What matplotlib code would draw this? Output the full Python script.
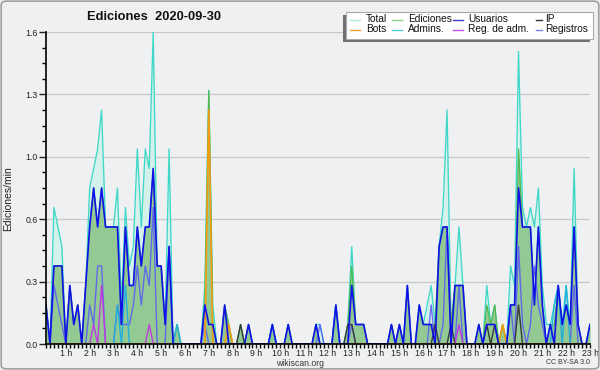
import matplotlib
matplotlib.use("Agg")
import matplotlib.pyplot as plt
from matplotlib.patches import Rectangle, FancyBboxPatch
from matplotlib.lines import Line2D
import numpy as np

plt.rcParams['font.family'] = ['Liberation Sans', 'DejaVu Sans']

# 10-minute bins from 00:10 to 23:00 (bin number n -> n*10 minutes)
bins = list(range(1, 139))

# edits per minute, one line per hour (first line 00:10-00:50, last 23:00)
total = [
    0.2, 0, 0.7, 0.6, 0.5,
    0, 0.3, 0.1, 0.2, 0, 0.3,
    0.8, 0.9, 1.0, 1.2, 0.6, 0.6,
    0.6, 0.8, 0.2, 0.7, 0.4, 0.5,
    1.0, 0.6, 1.0, 0.9, 1.6, 0.4,
    0.4, 0.1, 1.0, 0, 0.1, 0,
    0, 0, 0, 0, 0, 0.3,
    1.3, 0.2, 0, 0, 0.2, 0.1,
    0, 0, 0.1, 0, 0.1, 0,
    0, 0, 0, 0, 0.1, 0,
    0, 0, 0.1, 0, 0, 0,
    0, 0, 0, 0.1, 0.1, 0,
    0, 0, 0.2, 0, 0, 0.1,
    0.5, 0.1, 0.1, 0.1, 0, 0,
    0, 0, 0, 0, 0.1, 0,
    0.1, 0, 0.3, 0, 0, 0.2,
    0.1, 0.2, 0.3, 0.1, 0.5, 0.7,
    1.2, 0.1, 0.3, 0.6, 0.3, 0,
    0, 0, 0.1, 0, 0.3, 0.1,
    0.2, 0, 0.1, 0, 0.4, 0.3,
    1.5, 0.7, 0.6, 0.7, 0.6, 0.8,
    0.3, 0.1, 0.1, 0.2, 0.3, 0.1,
    0.3, 0.1, 0.9, 0.1, 0, 0,
    0.1,
]
ediciones = [
    0.2, 0, 0.4, 0.4, 0.4,
    0, 0.3, 0.1, 0.2, 0, 0.3,
    0.6, 0.8, 0.6, 0.8, 0.6, 0.6,
    0.6, 0.6, 0.1, 0.6, 0.3, 0.3,
    0.6, 0.4, 0.6, 0.6, 0.9, 0.4,
    0.4, 0.1, 0.5, 0, 0.1, 0,
    0, 0, 0, 0, 0, 0.2,
    1.3, 0.1, 0, 0, 0.2, 0.1,
    0, 0, 0.1, 0, 0.1, 0,
    0, 0, 0, 0, 0.1, 0,
    0, 0, 0.1, 0, 0, 0,
    0, 0, 0, 0.1, 0, 0,
    0, 0, 0.2, 0, 0, 0.1,
    0.4, 0.1, 0.1, 0.1, 0, 0,
    0, 0, 0, 0, 0.1, 0,
    0.1, 0, 0.3, 0, 0, 0.2,
    0.1, 0.1, 0.1, 0.1, 0.5, 0.6,
    0.6, 0.1, 0.3, 0.3, 0.3, 0,
    0, 0, 0.1, 0, 0.2, 0.1,
    0.2, 0, 0.1, 0, 0.2, 0.2,
    1.0, 0.6, 0.6, 0.6, 0.2, 0.6,
    0.2, 0, 0.1, 0.1, 0.3, 0.1,
    0.2, 0.1, 0.6, 0.1, 0, 0,
    0.1,
]
usuarios = [
    0.2, 0, 0.4, 0.4, 0.4,
    0, 0.3, 0.1, 0.2, 0, 0.3,
    0.6, 0.8, 0.6, 0.8, 0.6, 0.6,
    0.6, 0.6, 0.1, 0.6, 0.3, 0.3,
    0.6, 0.4, 0.6, 0.6, 0.9, 0.4,
    0.4, 0.1, 0.5, 0, 0, 0,
    0, 0, 0, 0, 0, 0.2,
    0.1, 0.1, 0, 0, 0.2, 0,
    0, 0, 0, 0, 0.1, 0,
    0, 0, 0, 0, 0.1, 0,
    0, 0, 0.1, 0, 0, 0,
    0, 0, 0, 0.1, 0, 0,
    0, 0, 0.2, 0, 0, 0,
    0.3, 0.1, 0.1, 0.1, 0, 0,
    0, 0, 0, 0, 0.1, 0,
    0.1, 0, 0.3, 0, 0, 0.2,
    0.1, 0.1, 0.1, 0, 0.5, 0.6,
    0.6, 0, 0.3, 0.3, 0.3, 0,
    0, 0, 0.1, 0, 0.1, 0.1,
    0.1, 0, 0, 0, 0.2, 0.2,
    0.8, 0.6, 0.6, 0.6, 0.2, 0.6,
    0.2, 0, 0.1, 0, 0.3, 0.1,
    0.2, 0.1, 0.6, 0.1, 0, 0,
    0.1,
]
ip = [
    0, 0, 0, 0, 0,
    0, 0, 0, 0, 0, 0,
    0, 0, 0, 0, 0, 0,
    0, 0, 0, 0, 0, 0,
    0, 0, 0, 0, 0, 0,
    0, 0, 0, 0, 0, 0,
    0, 0, 0, 0, 0, 0,
    0, 0, 0, 0, 0, 0,
    0, 0, 0.1, 0, 0, 0,
    0, 0, 0, 0, 0, 0,
    0, 0, 0, 0, 0, 0,
    0, 0, 0, 0, 0, 0,
    0, 0, 0, 0, 0, 0.1,
    0.1, 0, 0, 0, 0, 0,
    0, 0, 0, 0, 0, 0,
    0, 0, 0, 0, 0, 0,
    0, 0, 0, 0.1, 0, 0,
    0, 0.1, 0, 0, 0, 0,
    0, 0, 0, 0, 0.1, 0,
    0.1, 0, 0, 0, 0, 0,
    0.2, 0, 0, 0, 0, 0,
    0, 0, 0, 0, 0, 0,
    0, 0, 0, 0, 0, 0,
    0,
]
bots = [
    0, 0, 0, 0, 0,
    0, 0, 0, 0, 0, 0,
    0, 0, 0, 0, 0, 0,
    0, 0, 0, 0, 0, 0,
    0, 0, 0, 0, 0, 0,
    0, 0, 0, 0, 0, 0,
    0, 0, 0, 0, 0, 0,
    1.2, 0, 0, 0, 0, 0.1,
    0, 0, 0, 0, 0, 0,
    0, 0, 0, 0, 0, 0,
    0, 0, 0, 0, 0, 0,
    0, 0, 0, 0, 0, 0,
    0, 0, 0, 0, 0, 0,
    0, 0, 0, 0, 0, 0,
    0, 0, 0, 0, 0, 0,
    0, 0, 0, 0, 0, 0,
    0, 0, 0, 0, 0, 0,
    0, 0, 0, 0, 0, 0,
    0, 0, 0, 0, 0, 0,
    0, 0, 0.1, 0, 0, 0,
    0, 0, 0, 0, 0, 0,
    0, 0, 0, 0, 0, 0,
    0, 0, 0, 0, 0, 0,
    0,
]
admins = [
    0, 0, 0, 0, 0,
    0, 0, 0, 0, 0, 0,
    0, 0, 0, 0, 0, 0,
    0, 0.2, 0, 0.3, 0, 0,
    0, 0, 0, 0, 0, 0,
    0, 0, 0, 0, 0.1, 0,
    0, 0, 0, 0, 0, 0,
    0, 0, 0, 0, 0, 0,
    0, 0, 0, 0, 0, 0,
    0, 0, 0, 0, 0.1, 0,
    0, 0, 0, 0, 0, 0,
    0, 0, 0, 0, 0, 0,
    0, 0, 0.2, 0, 0, 0,
    0, 0, 0, 0, 0, 0,
    0, 0, 0, 0, 0, 0,
    0, 0, 0, 0, 0, 0,
    0, 0, 0, 0, 0, 0,
    0, 0, 0, 0, 0, 0,
    0, 0, 0, 0, 0, 0,
    0, 0, 0, 0, 0, 0,
    0, 0, 0, 0, 0, 0,
    0, 0, 0, 0.2, 0.3, 0,
    0.3, 0, 0, 0, 0, 0,
    0,
]
reg_adm = [
    0, 0, 0, 0, 0,
    0, 0, 0, 0, 0, 0,
    0, 0.1, 0, 0.3, 0, 0,
    0, 0, 0, 0, 0, 0,
    0, 0, 0, 0.1, 0, 0,
    0, 0, 0, 0, 0, 0,
    0, 0, 0, 0, 0, 0,
    0, 0, 0, 0, 0, 0,
    0, 0, 0, 0, 0, 0,
    0, 0, 0, 0, 0, 0,
    0, 0, 0, 0, 0, 0,
    0, 0, 0, 0, 0, 0,
    0, 0, 0, 0, 0, 0,
    0, 0, 0, 0, 0, 0,
    0, 0, 0, 0, 0, 0,
    0, 0, 0, 0, 0, 0,
    0, 0, 0, 0, 0, 0,
    0, 0, 0, 0.1, 0, 0,
    0, 0, 0, 0, 0, 0,
    0, 0, 0, 0, 0, 0,
    0, 0, 0, 0, 0, 0,
    0, 0, 0, 0, 0, 0,
    0, 0, 0, 0, 0, 0,
    0,
]
registros = [
    0, 0, 0.3, 0.2, 0.1,
    0, 0, 0, 0, 0, 0,
    0.2, 0.1, 0.4, 0.4, 0, 0,
    0, 0.2, 0.1, 0.1, 0.1, 0.2,
    0.4, 0.2, 0.4, 0.3, 0.7, 0,
    0, 0, 0.5, 0, 0, 0,
    0, 0, 0, 0, 0, 0.1,
    0, 0, 0, 0, 0, 0,
    0, 0, 0, 0, 0, 0,
    0, 0, 0, 0, 0, 0,
    0, 0, 0, 0, 0, 0,
    0, 0, 0, 0, 0.1, 0,
    0, 0, 0, 0, 0, 0,
    0.1, 0, 0, 0, 0, 0,
    0, 0, 0, 0, 0, 0,
    0, 0, 0, 0, 0, 0,
    0, 0, 0.2, 0, 0, 0.1,
    0.6, 0, 0, 0.3, 0, 0,
    0, 0, 0, 0, 0, 0,
    0, 0, 0, 0, 0.2, 0,
    0.5, 0.1, 0, 0.1, 0.4, 0.2,
    0.1, 0, 0, 0, 0, 0,
    0, 0, 0.3, 0, 0, 0,
    0,
]

hour_ticks = list(range(1, 24))
hour_labels = [f"{h} h" for h in hour_ticks]
y_ticks = [0.0, 0.32, 0.64, 0.96, 1.28, 1.6]
y_labels = ["0.0", "0.3", "0.6", "1.0", "1.3", "1.6"]
legend_labels = ["Total", "Ediciones", "Usuarios", "IP",
                 "Bots", "Admins.", "Reg. de adm.", "Registros"]

BG = '#eef0f1'
c_total_fill = '#d5f1ec'
c_total = '#3fd8c8'
c_ed_fill = '#93c993'
c_ed = '#4fb84f'
c_users = '#1010e8'
c_ip = '#3a3a3a'
c_bots = '#f39c12'
c_admins = '#22b0dc'
c_regadm = '#c03ae0'
c_reg = '#5858f8'

W, H = 600, 370
fig = plt.figure(figsize=(W / 100, H / 100), dpi=100, facecolor=BG)
ax = fig.add_axes([46 / W, 1 - 344 / H, 544 / W, 312 / H])
ax.set_facecolor(BG)

x = np.array(bins) / 6.0

ax.fill_between(x, 0, total, color=c_total_fill, lw=0, zorder=1)
ax.plot(x, total, color=c_total, lw=0.95, zorder=2)
ax.fill_between(x, 0, ediciones, color=c_ed_fill, lw=0, zorder=3)
ax.plot(x, ediciones, color=c_ed, lw=0.9, zorder=4)
ax.plot(x, registros, color=c_reg, lw=1.0, alpha=0.85, zorder=5)
ax.plot(x, admins, color=c_admins, lw=1.0, zorder=6)
ax.plot(x, ip, color=c_ip, lw=1.0, zorder=7)
ax.plot(x, reg_adm, color=c_regadm, lw=1.0, zorder=8)
ax.plot(x, bots, color=c_bots, lw=1.2, zorder=9)
ax.plot(x, usuarios, color=c_users, lw=1.2, zorder=10)

ax.set_xlim(1 / 6, 23)
ax.set_ylim(0, 1.6)
ax.set_xticks(hour_ticks)
ax.set_xticklabels(hour_labels)
ax.set_xticks(x, minor=True)
ax.set_yticks(y_ticks)
ax.set_yticklabels(y_labels)
ax.set_yticks(np.arange(0, 1.61, 0.08), minor=True)
ax.yaxis.grid(True, color='#c8c8c8', lw=0.9, zorder=0)
ax.set_axisbelow(True)
for s in ['top', 'right']:
    ax.spines[s].set_visible(False)
for s in ['left', 'bottom']:
    ax.spines[s].set_color('black')
    ax.spines[s].set_linewidth(1.2)
    ax.spines[s].set_zorder(20)
ax.tick_params(axis='x', which='major', length=3, width=1, pad=0.5,
               labelsize=6.3, colors='#222222')
ax.tick_params(axis='x', which='minor', length=3, width=1)
ax.tick_params(axis='y', which='major', length=5, width=1, pad=1,
               labelsize=6.3, colors='#222222')
ax.tick_params(axis='y', which='minor', length=3, width=1)

fig.text(8 / W, 1 - 199 / H, "Ediciones/min", rotation=90, ha='center',
         va='center', fontsize=7.5, color='#222222')
fig.text(154 / W, 1 - 16.5 / H, "Ediciones  2020-09-30", ha='center',
         va='center', fontsize=9.3, fontweight='bold', color='#111111')
fig.text(300 / W, 1 - 363.5 / H, "wikiscan.org", ha='center', va='center',
         fontsize=6.2, color='#333333')
fig.text(590 / W, 1 - 363 / H, "CC BY-SA 3.0", ha='right', va='center',
         fontsize=5, color='#333333')

# legend box with shadow
def fx(px):
    return px / W


def fy(py):
    return 1 - py / H


fig.patches.append(Rectangle((fx(343), fy(41.5)), (590 - 343) / W, 26.5 / H,
                             transform=fig.transFigure, facecolor='#707070',
                             edgecolor='none', zorder=1))
fig.patches.append(Rectangle((fx(346), fy(38.5)), (593 - 346) / W, 26.5 / H,
                             transform=fig.transFigure, facecolor='white',
                             edgecolor='#aaaaaa', lw=0.8, zorder=2))
legend_colors = ['#b0e8e0', '#88d088', '#3c3cd0', '#333333',
                 '#f5a040', '#50d0e0', '#c050e0', '#8080e8']
col_line_x = [(350, 360), (392, 402), (453, 463), (536, 542)]
col_text_x = [366, 408, 468, 545]
row_y = [19.5, 29.5]
for k, (lab, col) in enumerate(zip(legend_labels, legend_colors)):
    r, c = divmod(k, 4)
    x0, x1 = col_line_x[c]
    fig.lines.append(Line2D([fx(x0), fx(x1)], [fy(row_y[r]), fy(row_y[r])],
                            transform=fig.transFigure, color=col, lw=1.0,
                            zorder=3))
    fig.text(fx(col_text_x[c]), fy(row_y[r]), lab, ha='left', va='center',
             fontsize=7.3, color='#111111', zorder=4)

# outer frame
fig.patches.append(FancyBboxPatch((0.002, 0.003), 0.996, 0.994,
                                  boxstyle="round,pad=0,rounding_size=0.01",
                                  transform=fig.transFigure, facecolor='none',
                                  edgecolor='#a0a0a0', lw=1.2, zorder=0))

fig.savefig("out.png", dpi=100, facecolor=BG)
